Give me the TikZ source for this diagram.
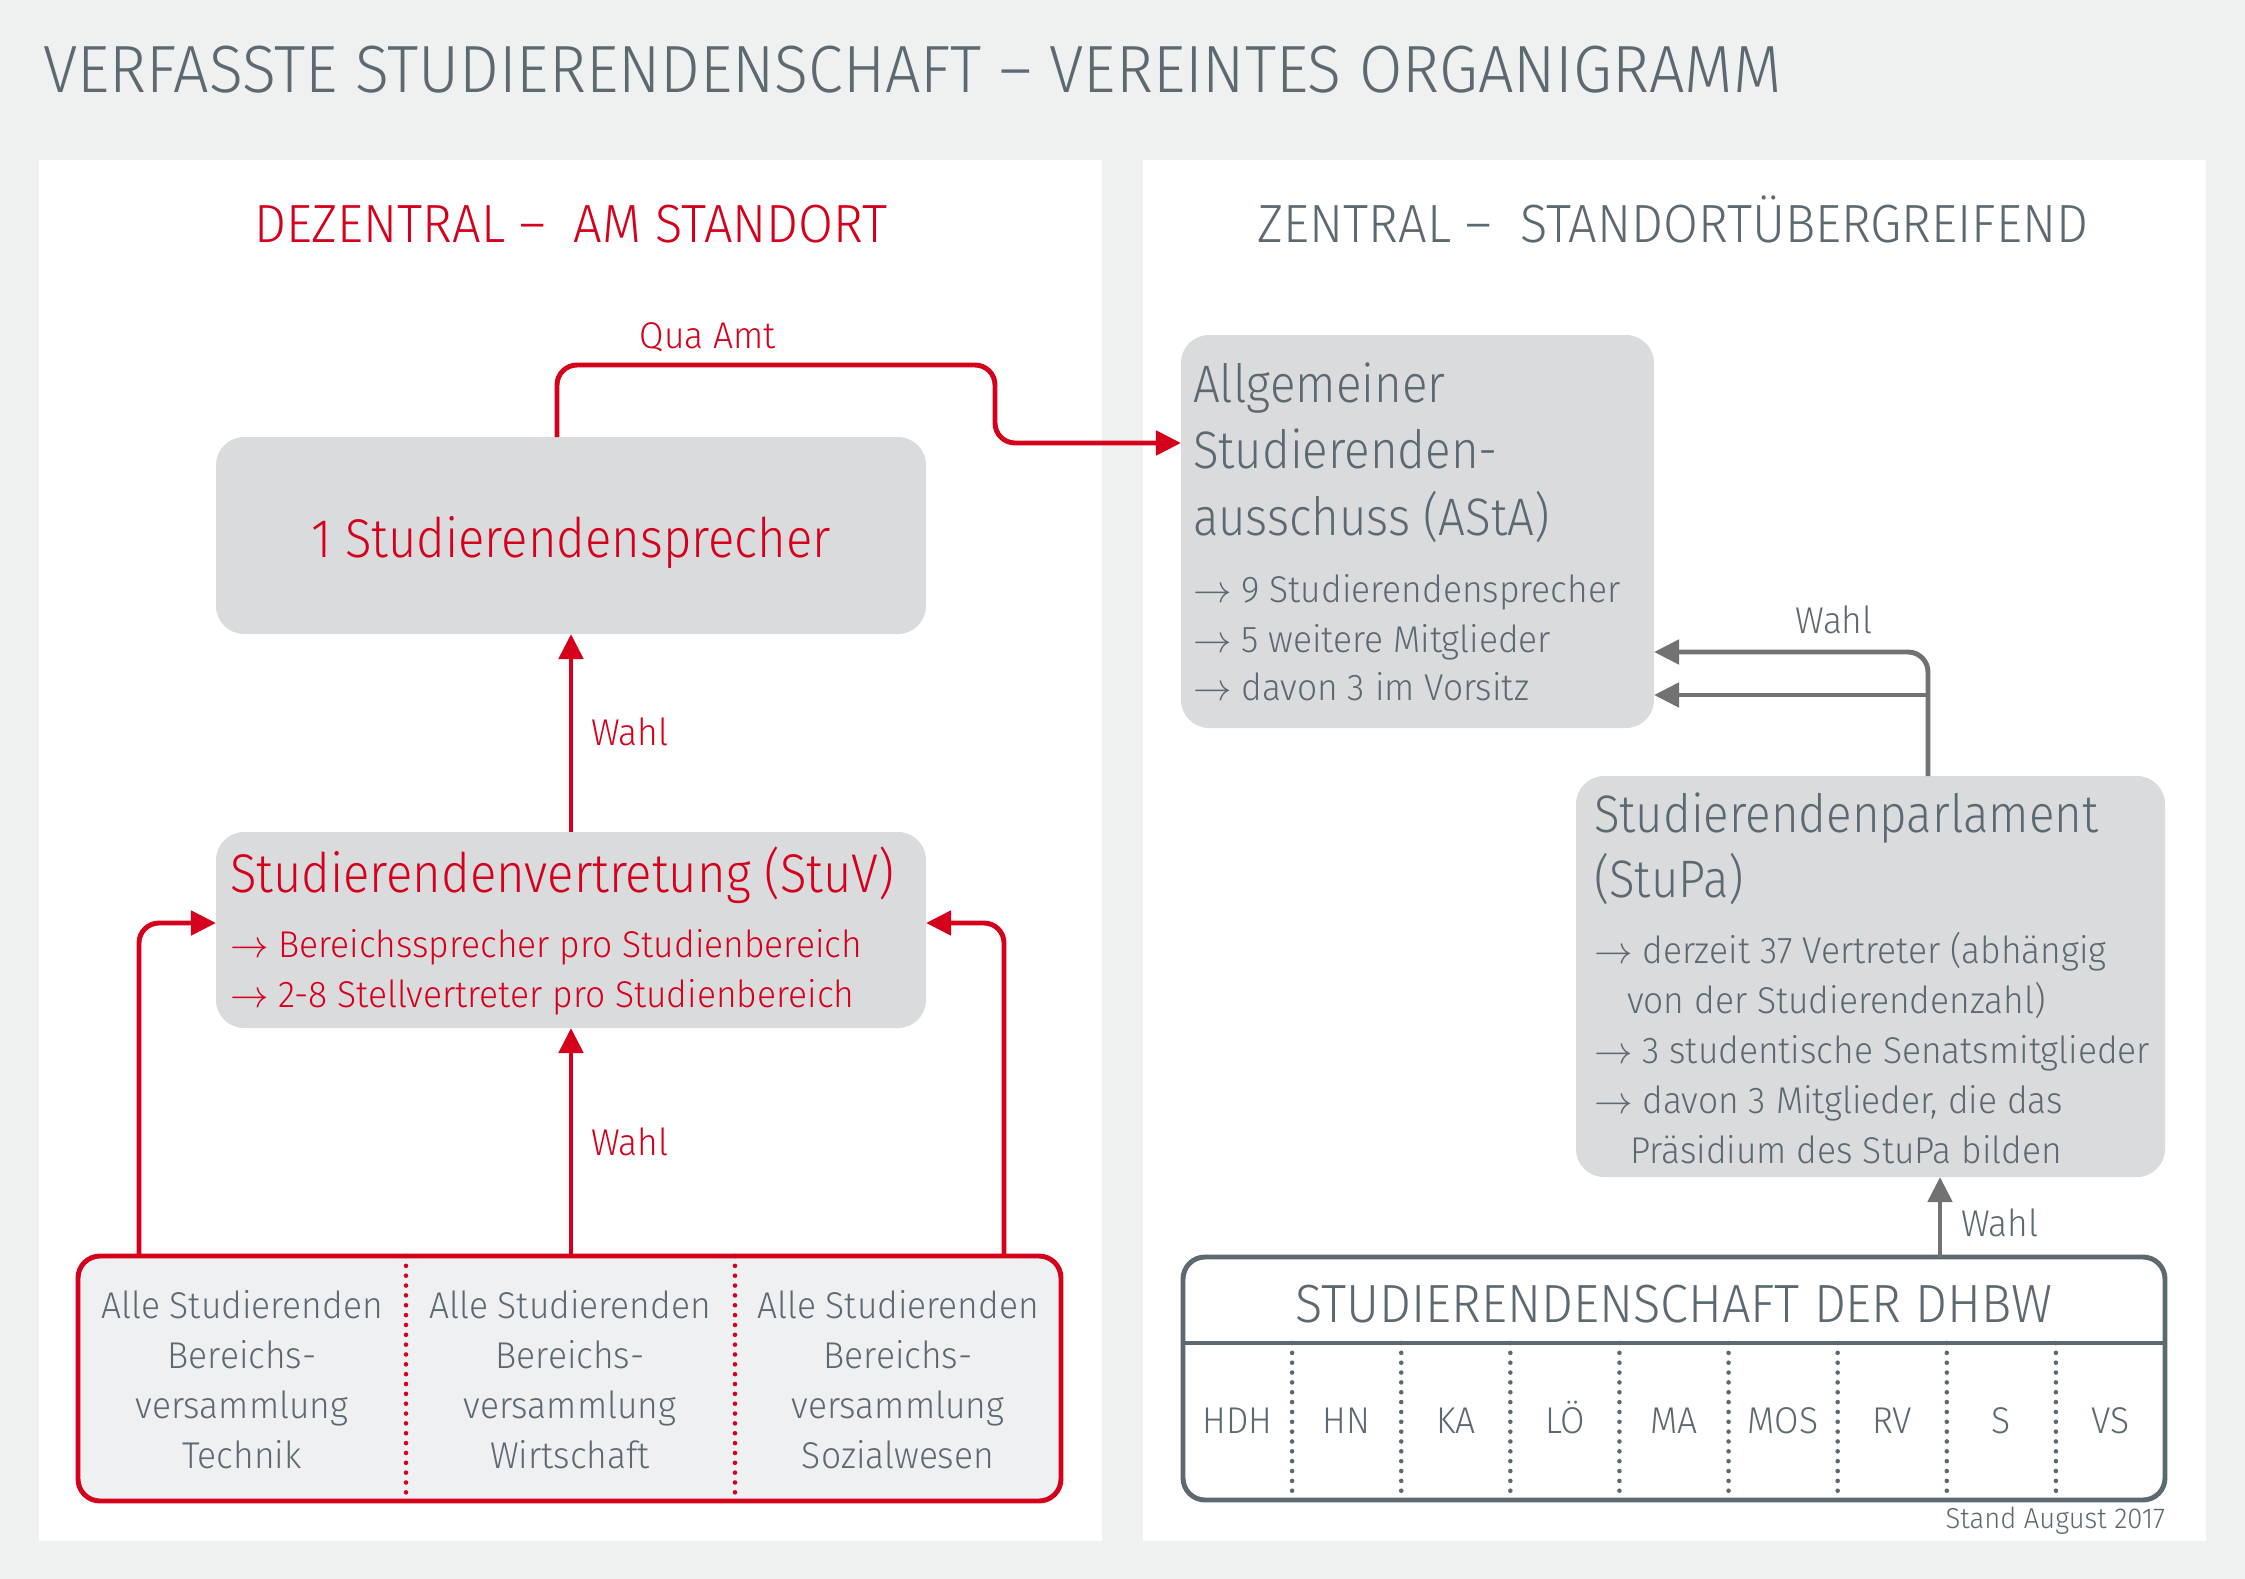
\documentclass[tikz,border=0pt]{standalone}
\usepackage{fontspec}
\setmainfont{Fira Sans}[UprightFont=* Light, FakeStretch=0.90]
\newfontfamily\capsfont{Fira Sans}[UprightFont=* Light, FakeStretch=0.94]
\newfontfamily\smallfont{Fira Sans}[UprightFont=* Light, FakeStretch=0.95]
\usetikzlibrary{positioning,calc,fit,arrows.meta}
\definecolor{dhred}{HTML}{D5001C}
\definecolor{dhgray}{HTML}{5C6971}
\definecolor{boxgray}{HTML}{D9DBDD}
\definecolor{bgcol}{HTML}{EFF0F0}
\definecolor{lightfill}{HTML}{EFF0F1}
\definecolor{linegray}{HTML}{727272}
\definecolor{dhborder}{HTML}{5C6971}

\begin{document}
\begin{tikzpicture}[
    x=0.01cm, y=-0.01cm,
    >={Triangle[length=0.25cm,width=0.24cm]},
    every node/.style={inner sep=0, outer sep=0},
    graybox/.style={fill=boxgray, rounded corners=0.28cm},
    bigtxt/.style={font=\fontsize{15.5}{18}\selectfont},
    midtxt/.style={font=\fontsize{15}{18}\selectfont, text=dhgray, anchor=base west},
    capstxt/.style={font=\capsfont\fontsize{15.3}{18}\selectfont, anchor=base},
    smalltxt/.style={font=\smallfont\fontsize{10.6}{14}\selectfont},
    redline/.style={draw=dhred, line width=1.4pt, rounded corners=0.2cm},
    grayline/.style={draw=linegray, line width=1.4pt, rounded corners=0.2cm},
    dotline/.style={line width=1.3pt, dash pattern=on 0pt off 2.8pt, line cap=round}
]
% background and panels
\fill[bgcol] (0,0) rectangle (2245,1579);
\fill[white] (39,160) rectangle (1102,1541);
\fill[white] (1143,160) rectangle (2206,1541);

% headings
\node[anchor=base west, font=\capsfont\fontsize{19}{22}\selectfont, text=dhgray] (title) at (43,93) {VERFASSTE STUDIERENDENSCHAFT – VEREINTES ORGANIGRAMM};
\node[capstxt, text=dhred] (lefthead) at (571,242) {DEZENTRAL –\ \ AM STANDORT};
\node[capstxt, text=dhgray] (righthead) at (1673,242) {ZENTRAL –\ \ STANDORTÜBERGREIFEND};

% boxes
\node[graybox, fit={(216,437) (926,634)}] (sprecher) {};
\node[graybox, fit={(1181,335) (1654,728)}] (asta) {};
\node[graybox, fit={(216,832) (926,1028)}] (stuv) {};
\node[graybox, fit={(1576,776) (2165,1177)}] (stupa) {};
\node[fill=lightfill, draw=dhred, line width=1.4pt, rounded corners=0.22cm, fit={(78,1256) (1061,1501)}] (vers) {};
\node[fill=white, draw=dhborder, line width=1.4pt, rounded corners=0.22cm, fit={(1183,1257) (2165,1500)}] (dhbw) {};

% Studierendensprecher
\node[bigtxt, text=dhred, anchor=base] (sprechert) at (571,557) {1 Studierendensprecher};

% AStA
\foreach \y/\t [count=\i] in {402/Allgemeiner, 468/Studierenden-, 535/ausschuss (AStA)}
  \node[midtxt] (astat\i) at (1193,\y) {\t};
\foreach \y/\t [count=\i] in {602/9 Studierendensprecher, 652/5 weitere Mitglieder, 700/davon 3 im Vorsitz}
  \node[smalltxt, text=dhgray, anchor=base west] (astab\i) at (1193,\y) {$\rightarrow$ \t};

% StuPa
\node[midtxt] (stupat1) at (1594,832) {Studierendenparlament};
\node[midtxt] (stupat2) at (1594,897) {(StuPa)};
\node[smalltxt, text=dhgray, anchor=base west] (stupab1) at (1594,963) {$\rightarrow$ derzeit 37 Vertreter (abhängig};
\node[smalltxt, text=dhgray, anchor=base west] (stupab2) at (1627,1013) {von der Studierendenzahl)};
\node[smalltxt, text=dhgray, anchor=base west] (stupab3) at (1594,1063) {$\rightarrow$ 3 studentische Senatsmitglieder};
\node[smalltxt, text=dhgray, anchor=base west] (stupab4) at (1594,1113) {$\rightarrow$ davon 3 Mitglieder, die das};
\node[smalltxt, text=dhgray, anchor=base west] (stupab5) at (1630,1163) {Präsidium des StuPa bilden};

% StuV
\node[bigtxt, text=dhred, anchor=base west] (stuvt) at (230,892) {Studierendenvertretung (StuV)};
\node[smalltxt, text=dhred, anchor=base west] (stuvb1) at (230,957) {$\rightarrow$ Bereichssprecher pro Studienbereich};
\node[smalltxt, text=dhred, anchor=base west] (stuvb2) at (230,1007) {$\rightarrow$ 2-8 Stellvertreter pro Studienbereich};

% Bereichsversammlungen
\foreach \x in {406,735}
  \draw[dotline, dhred] (vers.north -| \x,0) -- (vers.south -| \x,0);
\foreach \x/\fach [count=\c] in {242/Technik, 570/Wirtschaft, 898/Sozialwesen} {
  \node[smalltxt, text=dhgray, anchor=base] (alle\c) at (\x,1318) {Alle Studierenden};
  \node[smalltxt, text=dhgray, anchor=base] (ber\c) at (\x,1368) {Bereichs-};
  \node[smalltxt, text=dhgray, anchor=base] (ver\c) at (\x,1418) {versammlung};
  \node[smalltxt, text=dhgray, anchor=base] (fach\c) at (\x,1468) {\fach};
}

% Studierendenschaft der DHBW
\draw[line width=1.4pt, dhborder] (dhbw.west |- 0,1343) -- (dhbw.east |- 0,1343);
\node[capstxt, text=dhgray] (dhbwt) at (1674,1322) {STUDIERENDENSCHAFT DER DHBW};
\foreach \i in {1,...,8}
  \draw[dotline, dhborder] ({1183+109.11*\i},1343) -- ({1183+109.11*\i},1500);
\foreach \t [count=\i] in {HDH,HN,KA,LÖ,MA,MOS,RV,S,VS}
  \node[smalltxt, text=dhgray, anchor=base] (dh\i) at ({1183+109.11*\i-54.56},1433) {\t};
\node[anchor=base east, font=\smallfont\fontsize{8.2}{10}\selectfont, text=dhgray] (stand) at (2165,1528) {Stand August 2017};

% red connectors
\draw[redline, ->] ($(sprecher.north)+(-14,0)$) |- (995,365) |- (asta.west |- 0,443);
\node[smalltxt, text=dhred, anchor=base] (quaamt) at (708,348) {Qua Amt};
\draw[redline, ->] (stuv.north) -- (sprecher.south);
\node[smalltxt, text=dhred, anchor=base west] (wahl1) at (591,745) {Wahl};
\draw[redline, ->] (stuv.south |- vers.north) -- (stuv.south);
\node[smalltxt, text=dhred, anchor=base west] (wahl2) at (591,1155) {Wahl};
\draw[redline, ->] (vers.north -| 139,0) |- (stuv.west |- 0,923);
\draw[redline, ->] (vers.north -| 1004,0) |- (stuv.east |- 0,923);

% gray connectors
\coordinate (join) at (1928,695);
\draw[grayline, ->] (stupa.north -| 1928,0) |- (asta.east |- 0,652);
\draw[grayline, ->] (join) -- (asta.east |- join);
\node[smalltxt, text=dhgray, anchor=base] (wahl3) at (1834,633) {Wahl};
\draw[grayline, ->] (dhbw.north -| 1940,0) -- (stupa.south -| 1940,0);
\node[smalltxt, text=dhgray, anchor=base west] (wahl4) at (1961,1236) {Wahl};
\end{tikzpicture}
\end{document}
